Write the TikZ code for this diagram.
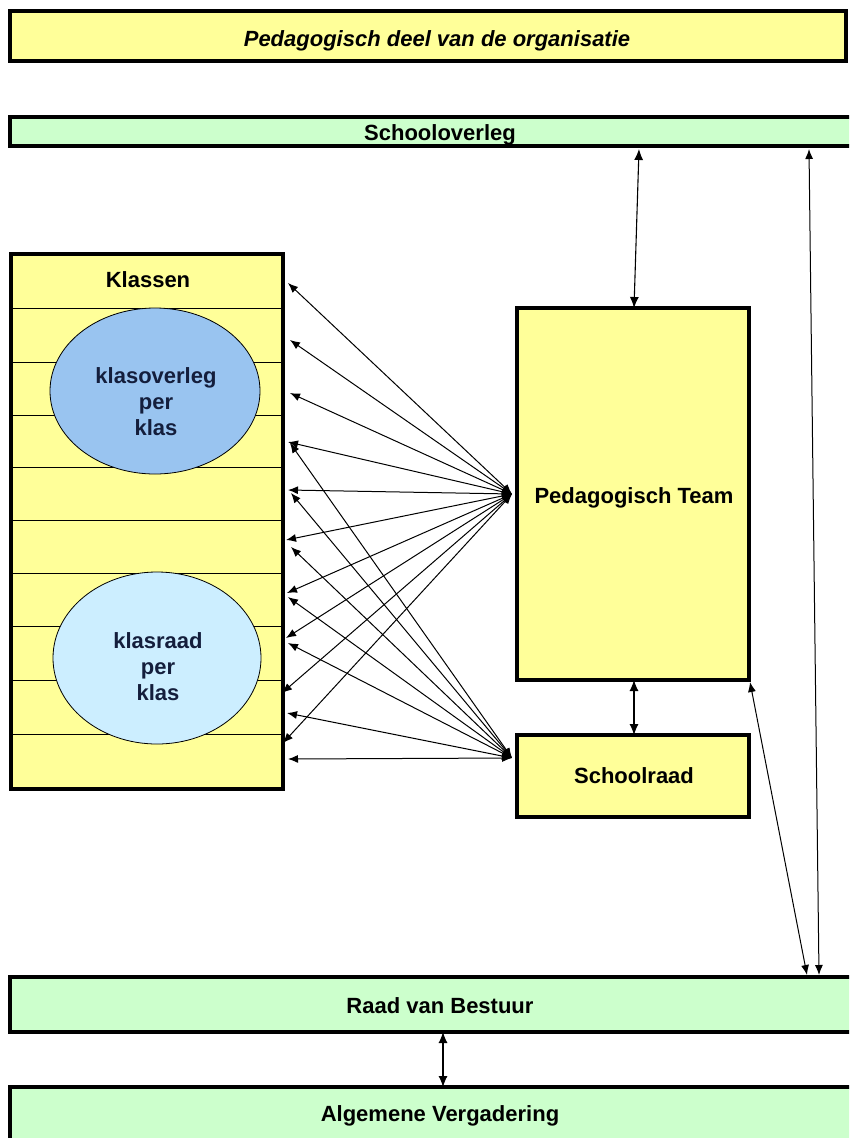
\documentclass[tikz,border=0pt]{standalone}
\usepackage{fontspec}
\setmainfont{Liberation Sans}
\usetikzlibrary{arrows.meta,shapes.geometric}
\definecolor{yel}{RGB}{255,255,153}
\definecolor{grn}{RGB}{204,255,204}
\definecolor{blu}{RGB}{153,196,240}
\definecolor{cya}{RGB}{204,238,255}
\definecolor{navy}{RGB}{20,30,60}
\begin{document}
\begin{tikzpicture}[x=1pt,y=-1pt,
  box/.style={draw=black,line width=4.5pt,inner sep=0pt,outer sep=0pt},
  lbl/.style={font=\fontsize{22}{26}\selectfont\bfseries,inner sep=0pt,anchor=base},
  elltxt/.style={font=\fontsize{22}{26}\selectfont\bfseries,inner sep=0pt,align=center,text=navy},
  ell/.style={ellipse,draw=black,line width=0.8pt,inner sep=0pt},
  conn/.style={line width=1pt,{Latex[length=10pt,width=8pt]}-{Latex[length=10pt,width=8pt]}},
  vconn/.style={line width=1.1pt,{Latex[length=11pt,width=9pt]}-{Latex[length=11pt,width=9pt]}}
]
\clip (0,0) rectangle (849,1138);
\fill[white] (0,0) rectangle (849,1138);

% top title box
\node[box,fill=yel,minimum width=836pt,minimum height=50pt] (top) at (428,36) {};
\node[lbl,font=\fontsize{22}{26}\selectfont\bfseries\itshape] (toptxt) at (437,46) {Pedagogisch deel van de organisatie};

% Schooloverleg bar
\node[box,fill=grn,minimum width=860pt,minimum height=29pt] (so) at (440,131.5) {};
\node[lbl] (sotxt) at (440,140) {Schooloverleg};

% Klassen
\node[box,fill=yel,minimum width=272pt,minimum height=535pt] (kl) at (147,521.5) {};
\foreach \y in {308,362,415,467,520,573,626,680,734}
  \draw[line width=0.9pt] (11,\y) -- (283,\y);
\node[lbl] (kltxt) at (148,287) {Klassen};
\node[ell,fill=blu,minimum width=210pt,minimum height=166pt] (e1) at (155,391) {};
\node[elltxt] (e1txt) at (156,402) {klasoverleg\\per\\klas};
\node[ell,fill=cya,minimum width=208pt,minimum height=172pt] (e2) at (157,658) {};
\node[elltxt] (e2txt) at (158,667) {klasraad\\per\\klas};

% Pedagogisch Team and Schoolraad
\node[box,fill=yel,minimum width=232pt,minimum height=372pt] (pt) at (633,494) {};
\node[lbl] (pttxt) at (634,503) {Pedagogisch Team};
\node[box,fill=yel,minimum width=232pt,minimum height=82pt] (sr) at (633,776) {};
\node[lbl] (srtxt) at (634,783) {Schoolraad};

% Raad van Bestuur and Algemene Vergadering
\node[box,fill=grn,minimum width=860pt,minimum height=55pt] (raad) at (440,1004.5) {};
\node[lbl] (raadtxt) at (440,1013) {Raad van Bestuur};
\node[box,fill=grn,minimum width=860pt,minimum height=60pt] (alg) at (440,1117) {};
\node[lbl] (algtxt) at (440,1121) {Algemene Vergadering};

% connector end points
\coordinate (ptw) at ([xshift=-5pt]pt.west);
\coordinate (srw) at ([shift={(-5,-18)}]sr.west);
\path (so.south) ++(199,3) coordinate (soA);
\path (so.south) ++(369,3) coordinate (soB);
\path (raad.north) ++(367,-2) coordinate (raadA);
\path (raad.north) ++(379,-2) coordinate (raadB);
\path (pt.south east) ++(1,2) coordinate (ptse);

% fan from Pedagogisch Team
\foreach \i/\x/\y in {1/288/283,2/290/340,3/290/393,4/288/442,5/288/490,6/286/540,7/287/593,8/286/638,9/282/693,10/283/743}
  \coordinate (kp\i) at (\x,\y);
\foreach \i in {1,...,10}
  \draw[conn] (ptw) -- (kp\i);

% fan from Schoolraad
\foreach \i/\x/\y in {1/290/443,2/291/493,3/291/547,4/288/597,5/288/643,6/287/713,7/288/759}
  \coordinate (ks\i) at (\x,\y);
\foreach \i in {1,...,7}
  \draw[conn] (srw) -- (ks\i);

% vertical connectors
\draw[vconn] ([xshift=1pt]pt.north) -- (soA);
\draw[vconn] ([xshift=1pt]pt.south) -- ([xshift=1pt]sr.north);
\draw[conn] (ptse) -- (raadA);
\draw[conn] (soB) -- (raadB);
\draw[vconn] ([xshift=3pt]raad.south) -- ([xshift=3pt]alg.north);
\end{tikzpicture}
\end{document}
